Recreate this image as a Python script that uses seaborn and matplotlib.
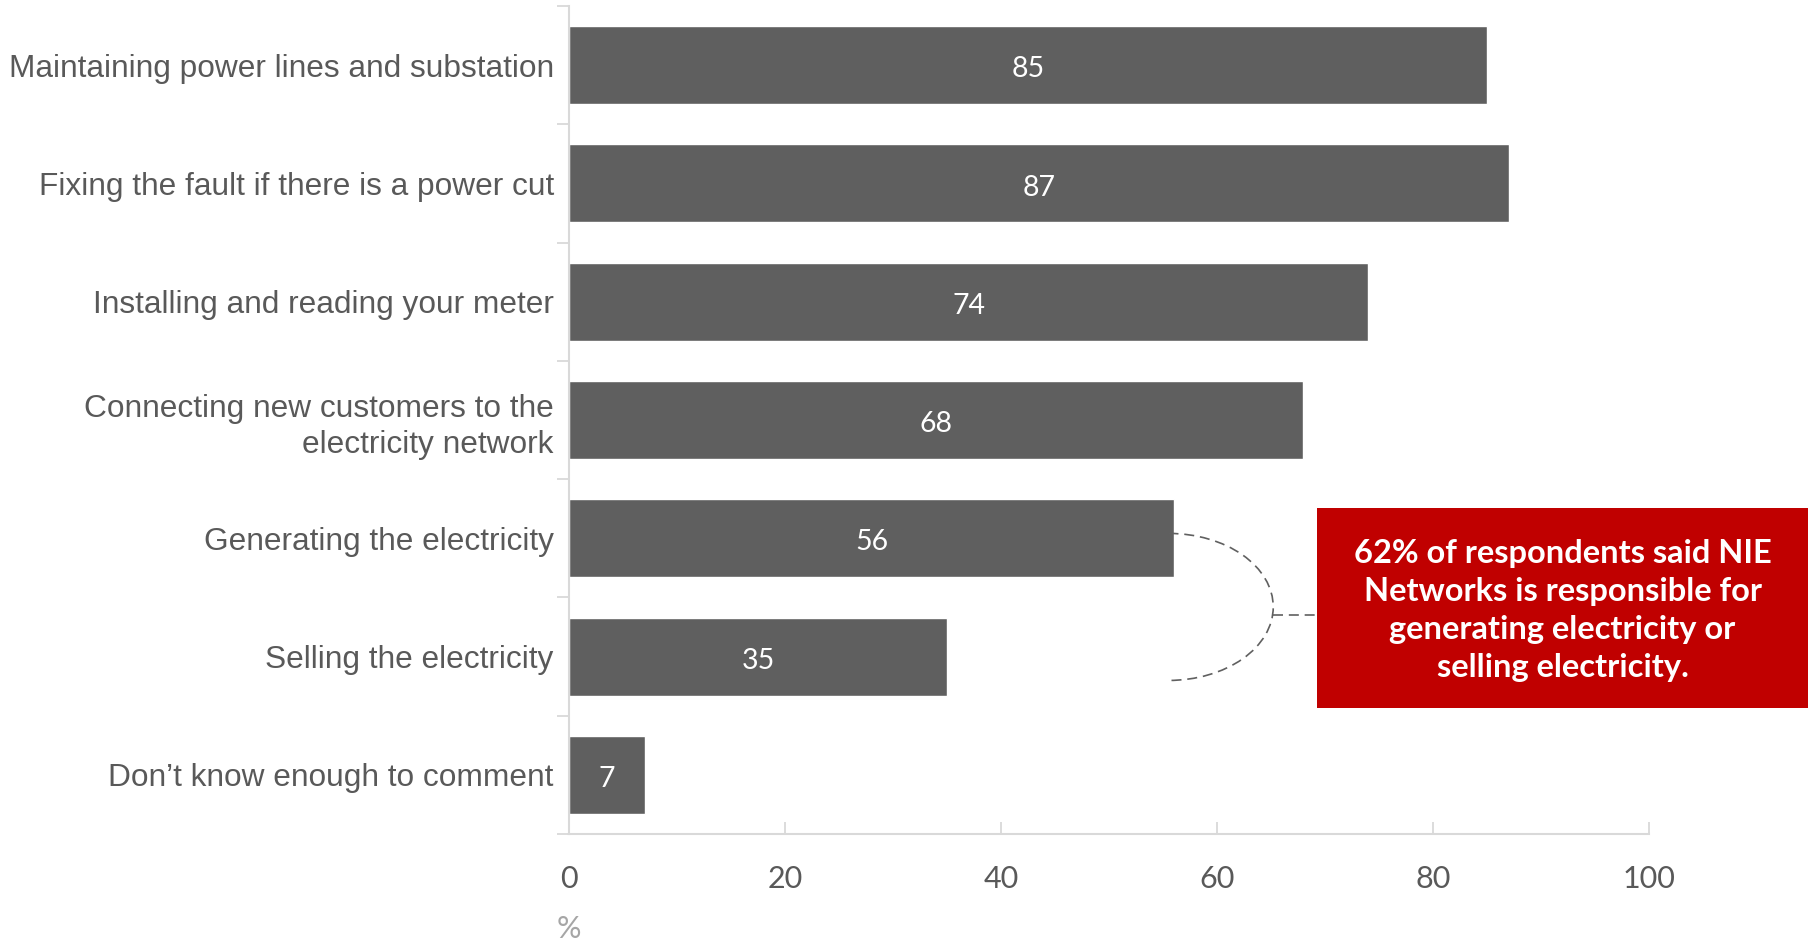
import matplotlib
matplotlib.use('Agg')
import matplotlib.pyplot as plt
import seaborn as sns
import numpy as np
import pandas as pd
from matplotlib.patches import Arc, Rectangle

# data
categories = [
    'Maintaining power lines and substation',
    'Fixing the fault if there is a power cut',
    'Installing and reading your meter',
    'Connecting new customers to the\nelectricity network',
    'Generating the electricity',
    'Selling the electricity',
    'Don\u2019t know enough to comment',
]
values = [85, 87, 74, 68, 56, 35, 7]
x_ticks = [0, 20, 40, 60, 80, 100]
x_unit = '%'
note_text = ('62% of respondents said NIE\nNetworks is responsible for\n'
             'generating electricity or\nselling electricity.')

sns.set_theme(style='white')
plt.rcParams['font.family'] = ['Liberation Sans', 'DejaVu Sans']

bar_color = '#5f5f5f'
text_gray = '#595959'
axis_gray = '#d9d9d9'

df = pd.DataFrame({'category': categories, 'value': values})

fig = plt.figure(figsize=(18.1, 9.44), dpi=100)
ax = fig.add_axes([0.3144, 0.1165, 0.5967, 0.8771])

sns.barplot(data=df, x='value', y='category', orient='h', color=bar_color,
            saturation=1, width=0.66, ax=ax)

# value labels inside the bars (nudged a little lower, like the original)
labels = ax.bar_label(ax.containers[0], labels=[str(v) for v in values],
                      label_type='center', color='white', fontsize=20.5, family='Lato')
for t in labels:
    t.xyann = (0, -3)

ax.set_xlim(0, 100)
ax.set_ylim(len(categories) - 0.5, -0.5)
ax.set_xticks(x_ticks)
ax.set_xticklabels([str(t) for t in x_ticks], family='Lato', fontsize=22, color=text_gray)
ax.set_xlabel('')
ax.set_ylabel('')
ax.tick_params(axis='y', which='major', left=True, length=0, pad=11, labelsize=22.8,
               labelcolor=text_gray)
for lbl in ax.get_yticklabels():
    lbl.set_linespacing(1.3)
ax.set_yticks(np.arange(-0.5, len(categories), 1), minor=True)
ax.tick_params(axis='y', which='minor', left=True, length=9, width=1.3, color=axis_gray,
               direction='out')
ax.tick_params(axis='x', which='major', bottom=True, length=9, width=1.3, color=axis_gray,
               direction='in', pad=22)

for side in ['top', 'right']:
    ax.spines[side].set_visible(False)
for side in ['left', 'bottom']:
    ax.spines[side].set_color(axis_gray)
    ax.spines[side].set_linewidth(1.5)

# unit label under the axis
fig.text(0.3144, 0.016, x_unit, ha='center', va='center', fontsize=22,
         color='#a6a6a6', family='Lato')

# dashed bracket linking the two bars to the callout
dash = (0, (6, 3.5))
ax.add_patch(Arc((55.5, 4.58), 19.4, 1.243, theta1=-90, theta2=90,
                 color='#606060', lw=1.2, linestyle=dash, clip_on=False))
ax.plot([65.2, 69.3], [4.65, 4.65], color='#606060', lw=1.2, linestyle=dash,
        clip_on=False)

# callout box
fig.add_artist(Rectangle((0.7276, 0.25), 0.2713, 0.2119, transform=fig.transFigure,
                         facecolor='#c00000', edgecolor='none'))
fig.text(0.8633, 0.353, note_text, ha='center', va='center', color='white',
         fontsize=23.5, fontweight='bold', family='Lato', linespacing=1.38)

fig.savefig('out.png', dpi=100)
